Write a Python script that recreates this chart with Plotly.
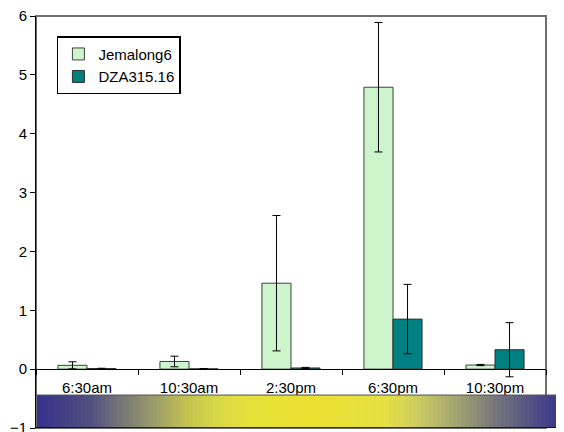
import plotly.graph_objects as go

categories = ["6:30am", "10:30am", "2:30pm", "6:30pm", "10:30pm"]
jemalong = [0.065, 0.13, 1.46, 4.79, 0.07]
jemalong_err = [0.06, 0.09, 1.15, 1.1, 0.01]
dza = [0.01, 0.005, 0.02, 0.85, 0.33]
dza_err = [0.005, 0.005, 0.01, 0.59, 0.46]

fig = go.Figure()
fig.add_trace(go.Bar(
    name="Jemalong6", x=categories, y=jemalong,
    marker=dict(color="#ccf5cc", line=dict(color="#404040", width=1)),
    error_y=dict(type="data", array=jemalong_err, color="black", thickness=1, width=4),
))
fig.add_trace(go.Bar(
    name="DZA315.16", x=categories, y=dza,
    marker=dict(color="#008080", line=dict(color="#303030", width=1)),
    error_y=dict(type="data", array=dza_err, color="black", thickness=1, width=4),
))

shapes = []
shapes.append(dict(type="rect", xref="paper", yref="paper", x0=0, x1=1, y0=0, y1=1,
                   line=dict(color="#707070", width=2), layer="below"))

stops = [
    (0.00, (0x35, 0x30, 0x8a)),
    (0.10, (0x50, 0x50, 0x80)),
    (0.16, (0x77, 0x77, 0x77)),
    (0.22, (0x9a, 0x9a, 0x6a)),
    (0.28, (0xc0, 0xc0, 0x50)),
    (0.34, (0xd8, 0xd8, 0x48)),
    (0.40, (0xe6, 0xe0, 0x3a)),
    (0.52, (0xea, 0xe0, 0x30)),
    (0.66, (0xe6, 0xe0, 0x3e)),
    (0.73, (0xc8, 0xc8, 0x60)),
    (0.80, (0xa0, 0xa0, 0x70)),
    (0.86, (0x7a, 0x7a, 0x78)),
    (0.92, (0x5a, 0x5a, 0x80)),
    (1.00, (0x35, 0x30, 0x8a)),
]

def interp(t):
    for i in range(len(stops) - 1):
        t0, c0 = stops[i]
        t1, c1 = stops[i + 1]
        if t0 <= t <= t1:
            f = (t - t0) / (t1 - t0) if t1 > t0 else 0
            return "rgb(%d,%d,%d)" % tuple(round(a + (b - a) * f) for a, b in zip(c0, c1))
    return "rgb(53,48,138)"

x_start, x_end = 0.002, (564 - 36) / 510
n = 132
for i in range(n):
    t = (i + 0.5) / n
    xa = x_start + (x_end - x_start) * i / n
    xb = x_start + (x_end - x_start) * (i + 1) / n + 0.001
    shapes.append(dict(type="rect", xref="paper", yref="y", x0=xa, x1=xb, y0=-1, y1=-0.44,
                       fillcolor=interp(t), line=dict(width=0), layer="above"))
shapes.append(dict(type="line", xref="paper", yref="y", x0=0, x1=x_end, y0=-0.44, y1=-0.44,
                   line=dict(color="#505050", width=1)))
shapes.append(dict(type="line", xref="paper", yref="y", x0=0, x1=x_end, y0=-1, y1=-1,
                   line=dict(color="black", width=1.5)))

# the page places the figure 8px from the top-left corner (default body margin)
fig.update_layout(
    width=556, height=424,
    margin=dict(l=28, r=18, t=8, b=4, autoexpand=False),
    paper_bgcolor="white", plot_bgcolor="white",
    font=dict(family="Liberation Sans, Arial, sans-serif", size=15, color="black"),
    barmode="group", bargap=0.43, bargroupgap=0,
    showlegend=True,
    legend=dict(x=0.041, y=0.951, xanchor="left", yanchor="top",
                bordercolor="black", borderwidth=1.5, bgcolor="white",
                font=dict(size=15), tracegroupgap=0, itemwidth=30),
    xaxis=dict(anchor="free", position=1/7, showline=True, linecolor="black", linewidth=1,
               ticks="outside", tickson="boundaries", ticklen=5, tickcolor="black",
               showgrid=False, ticklabelstandoff=5, automargin=False,
               tickfont=dict(size=15)),
    yaxis=dict(range=[-1, 6], dtick=1, showline=True, linecolor="black", linewidth=1,
               ticks="outside", ticklen=5, tickcolor="black", showgrid=False,
               zeroline=False, automargin=False, tickfont=dict(size=15),
               ticklabeloverflow="allow"),
    shapes=shapes,
)

fig.write_html("out.html")
